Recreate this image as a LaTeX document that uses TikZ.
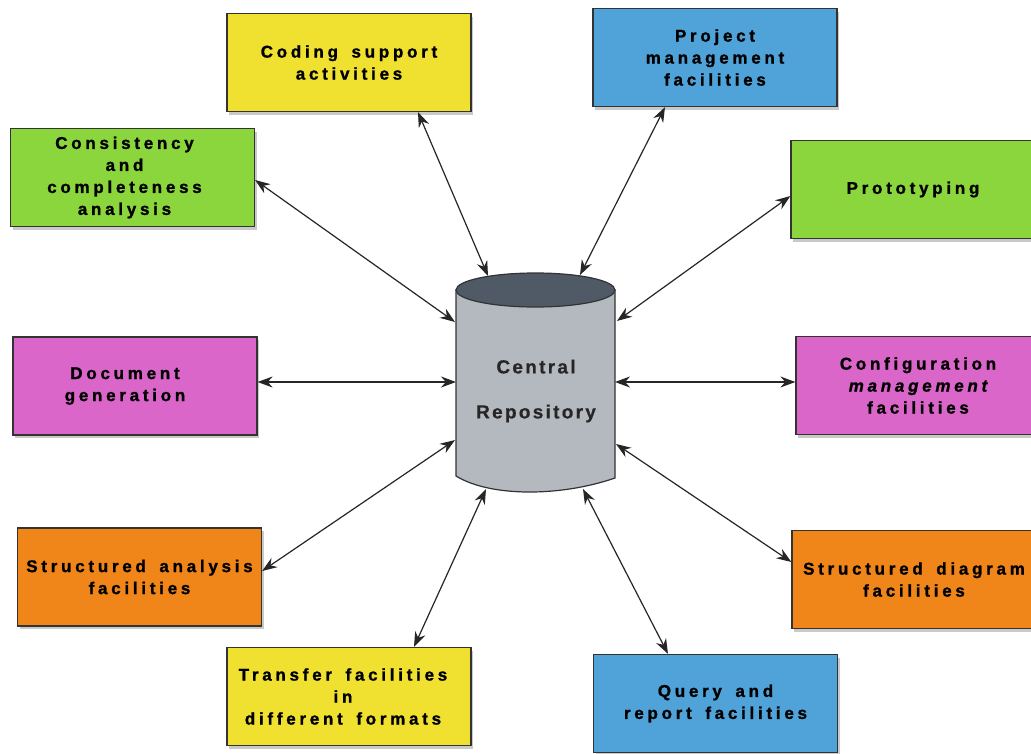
\documentclass[tikz,border=0pt]{standalone}
\usepackage{fontspec}
\setmainfont{Liberation Sans}
\newfontfamily\boxfont[LetterSpace=22,FakeBold=1.2,WordSpace=1.6]{Liberation Sans}
\newfontfamily\repofont[LetterSpace=12,FakeBold=0.6]{Liberation Sans}
\usetikzlibrary{arrows.meta,shadows,calc}
\definecolor{cyellow}{HTML}{F0E030}
\definecolor{cblue}{HTML}{4FA3D9}
\definecolor{cgreen}{HTML}{8AD63C}
\definecolor{cmagenta}{HTML}{D966C8}
\definecolor{corange}{HTML}{F0861A}
\definecolor{cylbody}{HTML}{B4B9BF}
\definecolor{cyltop}{HTML}{4F5A66}
\tikzset{
  boxtext/.style={align=center, inner sep=0pt, font=\boxfont\bfseries\fontsize{17}{22}\selectfont},
  fbox/.style={boxtext, draw=black!80, line width=1.2pt, minimum width=244pt, minimum height=98pt,
    drop shadow={shadow xshift=2pt, shadow yshift=-3pt, fill=black!35, opacity=0.6}},
  link/.style={{Stealth[length=15pt,width=11pt]}-{Stealth[length=15pt,width=11pt]}, line width=1.2pt, draw=black!85},
}
\begin{document}
\begin{tikzpicture}[x=1pt,y=-1pt]
\clip (0,0) rectangle (1031,753);
\fill[white] (0,0) rectangle (1031,753);

% boxes
\node[fbox, fill=cyellow] (coding) at (349,62.5) {Coding support\\activities};
\node[fbox, fill=cblue] (project) at (715,57.5) {Project\\management\\facilities};
\node[fbox, fill=cgreen, label={[boxtext, xshift=-8pt]center:Consistency\\and\\completeness\\analysis}] (consist) at (132.5,177.5) {};
\node[fbox, fill=cgreen] (proto) at (913,189.5) {Prototyping};
\node[fbox, fill=cmagenta, label={[boxtext, xshift=-10pt]center:Document\\generation}] (docgen) at (135,386) {};
\node[fbox, fill=cmagenta] (config) at (918,385.5) {Configuration\\{\itshape management}\\facilities};
\node[fbox, fill=corange] (sanal) at (139.5,577) {Structured analysis\\facilities};
\node[fbox, fill=corange] (sdiag) at (914,579.5) {Structured diagram\\facilities};
\node[fbox, fill=cyellow, label={[boxtext, xshift=-6pt]center:Transfer facilities\\in\\different formats}] (transfer) at (349,696.5) {};
\node[fbox, fill=cblue] (query) at (715.5,703.5) {Query and\\report facilities};

% cylinder
\filldraw[fill=cylbody, draw=black!80, line width=1.2pt]
  (456,290) -- (456,476) .. controls (490,497) and (560,497) .. (615,478) -- (615,290) -- cycle;
\filldraw[fill=cyltop, draw=black!80, line width=1.2pt] (535.5,290) ellipse [x radius=79.5, y radius=17];
\node[font=\repofont\bfseries\fontsize{19}{45}\selectfont, align=center, text=black!85] (repo) at (536,391) {Central\\Repository};

% cylinder attachment points
\coordinate (c1) at (488,276);
\coordinate (c2) at (580,275);
\coordinate (c3) at (455,322);
\coordinate (c4) at (617,321);
\coordinate (c5) at (456,382);
\coordinate (c6) at (615,382);
\coordinate (c7) at (455,440);
\coordinate (c8) at (616,444);
\coordinate (c9) at (486,489);
\coordinate (c10) at (583,489);

% connectors
\draw[link] ($(coding.south)+(69,0)$) -- (c1);
\draw[link] ($(project.south)+(-50,0)$) -- (c2);
\draw[link] ($(consist.east)+(0,2.5)$) -- (c3);
\draw[link] ($(proto.west)+(0,6.5)$) -- (c4);
\draw[link] ($(docgen.east)+(0,-4)$) -- (c5);
\draw[link] ($(config.west)+(0,-3.5)$) -- (c6);
\draw[link] ($(sanal.east)+(0,-6)$) -- (c7);
\draw[link] ($(sdiag.west)+(0,-17.5)$) -- (c8);
\draw[link] ($(transfer.north)+(65,0)$) -- (c9);
\draw[link] ($(query.north)+(-47.5,0)$) -- (c10);
\end{tikzpicture}
\end{document}
